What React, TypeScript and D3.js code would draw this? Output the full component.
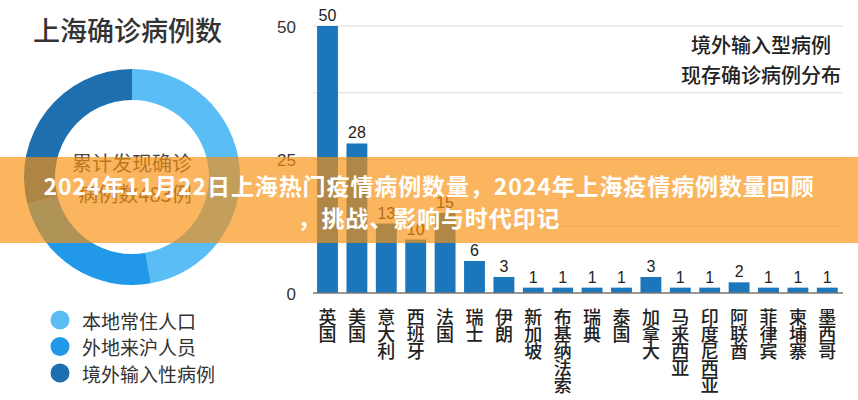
// Shanghai confirmed cases: donut summary + imported cases by country bar chart
import { useRef, useEffect } from "react";
import * as d3 from "d3";

// Donut data (cumulative confirmed cases by source)
const sourceNames = ["本地常住人口", "外地来沪人员", "境外输入性病例"];
const sourceValues = [228, 115, 140];
const sourceColors = ["#5bbdf6", "#2198e8", "#1d6fb0"];

// Bar data (imported cases currently confirmed, by country)
const countries = [
  "英国", "美国", "意大利", "西班牙", "法国", "瑞士", "伊朗", "新加坡", "布基纳法索",
  "瑞典", "泰国", "加拿大", "马来西亚", "印度尼西亚", "阿联酋", "菲律宾", "柬埔寨", "墨西哥",
];
const caseCounts = [50, 28, 13, 10, 15, 6, 3, 1, 1, 1, 1, 3, 1, 1, 2, 1, 1, 1];
const yTicks = [0, 25, 50];
const gridTicks = [0, 12.5, 25, 37.5, 50];

const cjk = "'Noto Sans CJK SC', 'Noto Sans', sans-serif";
const latin = "'Liberation Sans', Arial, sans-serif";

export default function App() {
  const ref = useRef<SVGSVGElement>(null);

  useEffect(() => {
    const width = 858;
    const height = 400;
    const svg = d3.select(ref.current);
    svg.selectAll("*").remove();

    svg.append("rect").attr("width", width).attr("height", height).attr("fill", "#fff");

    // ---- Left panel: title, donut, legend
    svg.append("text")
      .attr("x", 33)
      .attr("y", 41)
      .style("font-family", cjk)
      .style("font-size", "27px")
      .style("font-weight", 500)
      .attr("fill", "#333")
      .text("上海确诊病例数");

    const total = d3.sum(sourceValues);
    const pie = d3.pie<number>().sort(null)(sourceValues);
    const arc = d3.arc<d3.PieArcDatum<number>>().innerRadius(77).outerRadius(108);
    const donut = svg.append("g").attr("transform", "translate(132,177)");
    donut.selectAll("path")
      .data(pie)
      .join("path")
      .attr("d", arc)
      .attr("fill", (d, i) => sourceColors[i]);

    donut.append("text")
      .attr("y", -15)
      .attr("text-anchor", "middle")
      .attr("dominant-baseline", "central")
      .style("font-family", cjk)
      .style("font-size", "20px")
      .attr("fill", "#444")
      .text("累计发现确诊");
    donut.append("text")
      .attr("x", 3)
      .attr("y", 16)
      .attr("text-anchor", "middle")
      .attr("dominant-baseline", "central")
      .style("font-family", cjk)
      .style("font-size", "20px")
      .attr("fill", "#444")
      .text(`病例数${total}例`);

    const legend = svg.append("g");
    sourceNames.forEach((name, i) => {
      const ly = 320 + i * 26.5;
      legend.append("circle").attr("cx", 60).attr("cy", ly).attr("r", 9.5).attr("fill", sourceColors[i]);
      legend.append("text")
        .attr("x", 82)
        .attr("y", ly)
        .attr("dominant-baseline", "central")
        .style("font-family", cjk)
        .style("font-size", "19px")
        .attr("fill", "#333")
        .text(name);
    });

    // ---- Right panel: bar chart
    const x = d3.scaleBand().domain(countries).range([312.8, 842]).paddingInner(0.29).paddingOuter(0.145);
    const y = d3.scaleLinear().domain([0, 50]).range([293, 26]);

    const g = svg.append("g");
    gridTicks.slice(1).forEach((t) => {
      g.append("line")
        .attr("x1", 313).attr("x2", 843)
        .attr("y1", y(t)).attr("y2", y(t))
        .attr("stroke", "#ddd").attr("stroke-width", 1.2);
    });

    yTicks.forEach((t) => {
      g.append("text")
        .attr("x", 296)
        .attr("y", y(t) + 1)
        .attr("text-anchor", "end")
        .attr("dominant-baseline", "central")
        .style("font-family", latin)
        .style("font-size", "17px")
        .attr("fill", "#333")
        .text(t);
    });

    g.selectAll("rect.bar")
      .data(countries)
      .join("rect")
      .attr("class", "bar")
      .attr("x", (d) => x(d)!)
      .attr("width", x.bandwidth())
      .attr("y", (d, i) => y(caseCounts[i]))
      .attr("height", (d, i) => y(0) - y(caseCounts[i]))
      .attr("fill", "#1c76bb");

    g.selectAll("text.val")
      .data(countries)
      .join("text")
      .attr("class", "val")
      .attr("x", (d) => x(d)! + x.bandwidth() / 2)
      .attr("y", (d, i) => y(caseCounts[i]) - 5)
      .attr("text-anchor", "middle")
      .style("font-family", latin)
      .style("font-size", "16px")
      .attr("fill", "#222")
      .text((d, i) => caseCounts[i]);

    g.append("line")
      .attr("x1", 313).attr("x2", 843)
      .attr("y1", y(0)).attr("y2", y(0))
      .attr("stroke", "#777").attr("stroke-width", 1.5);

    // Vertical category labels, one character per row
    countries.forEach((c) => {
      const t = g.append("text")
        .attr("text-anchor", "middle")
        .style("font-family", cjk)
        .style("font-size", "18px")
        .style("font-weight", 500)
        .attr("fill", "#222");
      c.split("").forEach((ch, j) => {
        t.append("tspan")
          .attr("x", x(c)! + x.bandwidth() / 2)
          .attr("y", 316 + j * 17)
          .attr("dominant-baseline", "central")
          .text(ch);
      });
    });

    // Chart caption in top right
    ["境外输入型病例", "现存确诊病例分布"].forEach((line, i) => {
      g.append("text")
        .attr("x", 761)
        .attr("y", 44 + i * 30)
        .attr("text-anchor", "middle")
        .attr("dominant-baseline", "central")
        .style("font-family", cjk)
        .style("font-size", "20px")
        .style("font-weight", 500)
        .attr("fill", "#222")
        .text(line);
    });

    // ---- Orange headline banner across the middle
    svg.append("rect")
      .attr("x", 0).attr("y", 157)
      .attr("width", width).attr("height", 86)
      .attr("fill", "rgb(248,145,15)")
      .attr("fill-opacity", 0.67);

    ["2024年11月22日上海热门疫情病例数量，2024年上海疫情病例数量回顾", "，挑战、影响与时代印记"].forEach((line, i) => {
      svg.append("text")
        .attr("x", width / 2)
        .attr("y", 185 + i * 32)
        .attr("text-anchor", "middle")
        .attr("dominant-baseline", "central")
        .style("font-family", cjk)
        .style("font-size", "23px")
        .style("font-weight", 700)
        .style("letter-spacing", "0.9px")
        .attr("fill", "#fff")
        .text(line);
    });
  }, []);

  return (
    <svg
      ref={ref}
      width={858}
      height={400}
      style={{ position: "absolute", left: 0, top: 0, display: "block" }}
    ></svg>
  );
}
